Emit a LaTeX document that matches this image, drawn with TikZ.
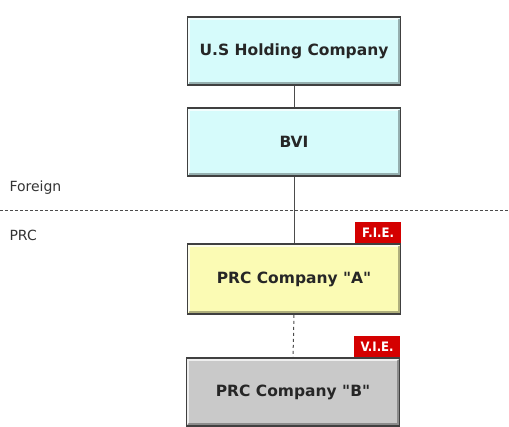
\documentclass[tikz,border=0pt]{standalone}
\usepackage{fontspec}
\setmainfont{DejaVu Sans}
\newfontfamily\condfont{DejaVu Sans Condensed}
\definecolor{boxcyan}{HTML}{D6FBFB}
\definecolor{boxyellow}{HTML}{FBFBB4}
\definecolor{boxgray}{HTML}{C9C9C9}
\definecolor{badgered}{HTML}{D40000}
\begin{document}
\begin{tikzpicture}[x=1pt,y=-1pt,
  company/.style={draw=black!75, line width=1.6pt, minimum width=213pt, minimum height=68pt,
    font=\bfseries\fontsize{15.5}{17}\selectfont, text=black!85, inner sep=0pt},
  badge/.style={fill=badgered, text=white, font=\condfont\bfseries\fontsize{13}{14}\selectfont,
    minimum height=21pt, minimum width=46pt, inner sep=1pt, anchor=south east},
  link/.style={draw=black!70, line width=1pt},
  region/.style={font=\fontsize{14}{16}\selectfont, text=black!80, anchor=west}]
\useasboundingbox (0,0) rectangle (509,427);
\node[company, fill=boxcyan] (us) at (294,51) {U.S Holding Company};
\node[company, fill=boxcyan] (bvi) at (294,142) {BVI};
\node[company, fill=boxyellow, minimum height=70pt] (a) at (294,279) {PRC Company \textquotedbl A\textquotedbl};
\node[company, fill=boxgray] (b) at (293,392) {PRC Company \textquotedbl B\textquotedbl};
% bevel highlights
\foreach \n in {us,bvi,a,b}{
  \draw[white, opacity=0.7, line width=2pt] ([xshift=2.5pt,yshift=2.5pt]\n.south west) -- ([xshift=2.5pt,yshift=-2.5pt]\n.north west) -- ([xshift=-2.5pt,yshift=-2.5pt]\n.north east);
  \draw[black, opacity=0.3, line width=2pt] ([xshift=2.5pt,yshift=2.5pt]\n.south west) -- ([xshift=-2.5pt,yshift=2.5pt]\n.south east) -- ([xshift=-2.5pt,yshift=-2.5pt]\n.north east);
}
\draw[link] (us.south) -- (bvi.north);
\draw[link] (bvi.south) -- (a.north);
\draw[link, dashed] (a.south) -- (b.north);
\coordinate (dl) at (0,211);
\coordinate (dr) at (509,211);
\draw[black!70, line width=1pt, dash pattern=on 3pt off 2pt] (dl) -- (dr);
\node[region] (foreign) at (6,188) {Foreign};
\node[region] (prc) at (6,235) {PRC};
\node[badge] (fie) at (a.north east) {F.I.E.};
\node[badge] (vie) at (b.north east) {V.I.E.};
\end{tikzpicture}
\end{document}
